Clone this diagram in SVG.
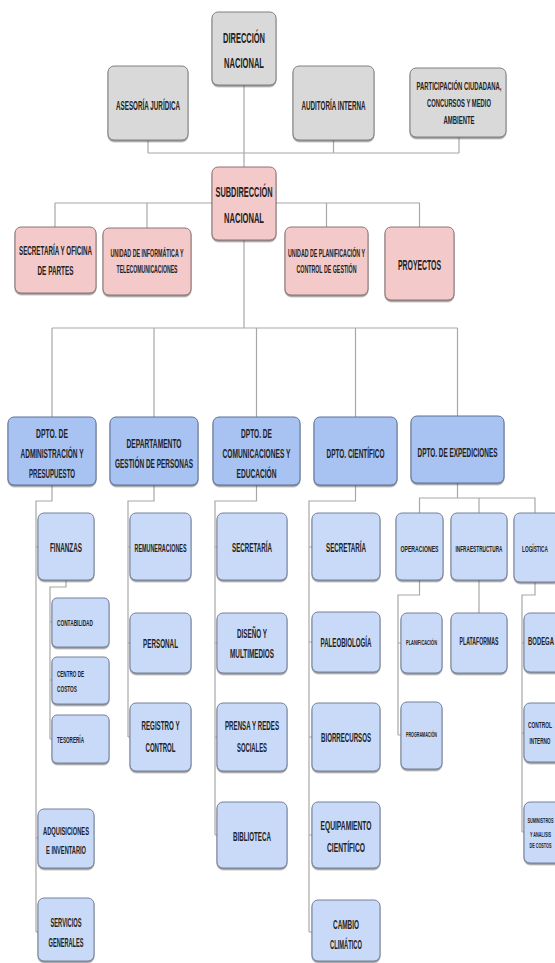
<svg xmlns="http://www.w3.org/2000/svg" width="555" height="963" viewBox="0 0 555 963">
<defs>
<filter id="sh" x="-10%" y="-10%" width="120%" height="130%"><feDropShadow dx="0" dy="1.5" stdDeviation="0.7" flood-color="#444" flood-opacity="0.6"/></filter>
<style>
rect{stroke-width:1;filter:url(#sh)}
.g{fill:#d9d9d9;stroke:#808080}
.p{fill:#f4c9c9;stroke:#8c7373}
.d{fill:#a8c3f2;stroke:#5d7196}
.s{fill:#c9daf8;stroke:#72809a}
text{font-family:"Liberation Sans",Arial,sans-serif;font-weight:bold;fill:#222;text-anchor:middle}
.l text{text-anchor:start}
#conn path{fill:none;stroke:#a8a8a8;stroke-width:1.2}
</style>
</defs>
<rect width="555" height="963" fill="#fff" style="filter:none;stroke:none"/>
<g id="conn">
<path d="M244,85V167M148,140V153M333.5,140V153M459,137V153M148,153H459"/>
<path d="M244,240V328M55,203H420M55,203V227M147,203V228M326.5,203V227M419.5,203V227"/>
<path d="M52,328H457.5M52,328V417M154,328V417M256.5,328V417M355.5,328V417M457.5,328V416"/>
<path d="M52,485V501H36V932M36,547H38M36,838H38M36,932H38"/>
<path d="M66,580V587H50V739M50,622H52M50,680H52M50,739H52"/>
<path d="M154,485V501H128V737M128,547H130M128,643H130M128,737H130"/>
<path d="M256.5,485V501H215V835M215,547H217M215,643H217M215,737H217M215,835H217"/>
<path d="M355.5,485V501H309V932M309,547H312M309,642H312M309,737H312M309,835H312M309,932H312"/>
<path d="M457.5,483V498M419.5,513V498H535V513M479,498V513"/>
<path d="M419.5,580V595H398V735M398,643H401M398,735H401"/>
<path d="M479,580V613"/>
<path d="M535,582V595H522V832M522,643H524M522,733H524M522,832H524"/>
</g>
<g id="n-dir"><rect class="g" x="212" y="12" width="64" height="73" rx="6"/><g transform="translate(244 0) scale(.5 1)"><text y="43" font-size="15" textLength="84" lengthAdjust="spacingAndGlyphs">DIRECCIÓN</text><text y="68" font-size="15" textLength="80" lengthAdjust="spacingAndGlyphs">NACIONAL</text></g></g>
<g id="n-ase"><rect class="g" x="108" y="66" width="80" height="74" rx="6"/><g transform="translate(148 0) scale(.5 1)"><text y="110" font-size="13" textLength="128" lengthAdjust="spacingAndGlyphs">ASESORÍA JURÍDICA</text></g></g>
<g id="n-aud"><rect class="g" x="293" y="66" width="81" height="74" rx="6"/><g transform="translate(333.5 0) scale(.5 1)"><text y="110" font-size="13" textLength="128" lengthAdjust="spacingAndGlyphs">AUDITORÍA INTERNA</text></g></g>
<g id="n-par"><rect class="g" x="410" y="68" width="96" height="69" rx="6"/><g transform="translate(459 0) scale(.5 1)"><text y="90" font-size="11" textLength="170" lengthAdjust="spacingAndGlyphs">PARTICIPACIÓN CIUDADANA,</text><text y="107" font-size="11" textLength="128" lengthAdjust="spacingAndGlyphs">CONCURSOS Y MEDIO</text><text y="124" font-size="11" textLength="62" lengthAdjust="spacingAndGlyphs">AMBIENTE</text></g></g>
<g id="n-sub"><rect class="p" x="212" y="167" width="64" height="73" rx="6"/><g transform="translate(244 0) scale(.5 1)"><text y="197" font-size="15" textLength="114" lengthAdjust="spacingAndGlyphs">SUBDIRECCIÓN</text><text y="223" font-size="15" textLength="80" lengthAdjust="spacingAndGlyphs">NACIONAL</text></g></g>
<g id="n-sec"><rect class="p" x="15" y="227" width="81" height="66" rx="6"/><g transform="translate(55.5 0) scale(.5 1)"><text y="255" font-size="12" textLength="146" lengthAdjust="spacingAndGlyphs">SECRETARÍA Y OFICINA</text><text y="275" font-size="12" textLength="72" lengthAdjust="spacingAndGlyphs">DE PARTES</text></g></g>
<g id="n-inf"><rect class="p" x="103" y="228" width="88" height="67" rx="6"/><g transform="translate(147 0) scale(.5 1)"><text y="257" font-size="10" textLength="146" lengthAdjust="spacingAndGlyphs">UNIDAD DE INFORMÁTICA Y</text><text y="273" font-size="10" textLength="122" lengthAdjust="spacingAndGlyphs">TELECOMUNICACIONES</text></g></g>
<g id="n-pla"><rect class="p" x="285" y="227" width="83" height="68" rx="6"/><g transform="translate(326.5 0) scale(.5 1)"><text y="257" font-size="10" textLength="154" lengthAdjust="spacingAndGlyphs">UNIDAD DE PLANIFICACIÓN Y</text><text y="273" font-size="10" textLength="120" lengthAdjust="spacingAndGlyphs">CONTROL DE GESTIÓN</text></g></g>
<g id="n-pro"><rect class="p" x="385" y="227" width="69" height="73" rx="6"/><g transform="translate(419.5 0) scale(.5 1)"><text y="270" font-size="15" textLength="86" lengthAdjust="spacingAndGlyphs">PROYECTOS</text></g></g>
<g id="n-adm"><rect class="d" x="8" y="417" width="88" height="68" rx="6"/><g transform="translate(52 0) scale(.5 1)"><text y="438" font-size="13" textLength="64" lengthAdjust="spacingAndGlyphs">DPTO. DE</text><text y="458" font-size="13" textLength="126" lengthAdjust="spacingAndGlyphs">ADMINISTRACIÓN Y</text><text y="478" font-size="13" textLength="92" lengthAdjust="spacingAndGlyphs">PRESUPUESTO</text></g></g>
<g id="n-ges"><rect class="d" x="110" y="417" width="88" height="68" rx="6"/><g transform="translate(154 0) scale(.5 1)"><text y="448" font-size="13" textLength="110" lengthAdjust="spacingAndGlyphs">DEPARTAMENTO</text><text y="468" font-size="13" textLength="156" lengthAdjust="spacingAndGlyphs">GESTIÓN DE PERSONAS</text></g></g>
<g id="n-com"><rect class="d" x="213" y="417" width="87" height="68" rx="6"/><g transform="translate(256.5 0) scale(.5 1)"><text y="438" font-size="13" textLength="62" lengthAdjust="spacingAndGlyphs">DPTO. DE</text><text y="458" font-size="13" textLength="136" lengthAdjust="spacingAndGlyphs">COMUNICACIONES Y</text><text y="478" font-size="13" textLength="80" lengthAdjust="spacingAndGlyphs">EDUCACIÓN</text></g></g>
<g id="n-cie"><rect class="d" x="314" y="417" width="83" height="68" rx="6"/><g transform="translate(355.5 0) scale(.5 1)"><text y="458" font-size="13" textLength="116" lengthAdjust="spacingAndGlyphs">DPTO. CIENTÍFICO</text></g></g>
<g id="n-exp"><rect class="d" x="411" y="416" width="93" height="67" rx="6"/><g transform="translate(457.5 0) scale(.5 1)"><text y="457" font-size="13" textLength="160" lengthAdjust="spacingAndGlyphs">DPTO. DE EXPEDICIONES</text></g></g>
<g id="n-fin"><rect class="s" x="38" y="513" width="56" height="67" rx="6"/><g transform="translate(66 0) scale(.5 1)"><text y="552" font-size="12" textLength="64" lengthAdjust="spacingAndGlyphs">FINANZAS</text></g></g>
<g id="n-con"><rect class="s" x="52" y="598" width="57" height="49" rx="5"/><g class="l" transform="translate(57 0) scale(.5 1)"><text y="626" font-size="9" textLength="72" lengthAdjust="spacingAndGlyphs">CONTABILIDAD</text></g></g>
<g id="n-cc"><rect class="s" x="52" y="657" width="57" height="47" rx="5"/><g class="l" transform="translate(57 0) scale(.5 1)"><text y="677" font-size="9" textLength="54" lengthAdjust="spacingAndGlyphs">CENTRO DE</text><text y="692" font-size="9" textLength="40" lengthAdjust="spacingAndGlyphs">COSTOS</text></g></g>
<g id="n-tes"><rect class="s" x="52" y="715" width="57" height="48" rx="5"/><g class="l" transform="translate(57 0) scale(.5 1)"><text y="743" font-size="9" textLength="54" lengthAdjust="spacingAndGlyphs">TESORERÍA</text></g></g>
<g id="n-adq"><rect class="s" x="38" y="809" width="56" height="59" rx="6"/><g transform="translate(66 0) scale(.5 1)"><text y="835" font-size="11" textLength="92" lengthAdjust="spacingAndGlyphs">ADQUISICIONES</text><text y="854" font-size="11" textLength="80" lengthAdjust="spacingAndGlyphs">E INVENTARIO</text></g></g>
<g id="n-ser"><rect class="s" x="38" y="898" width="56" height="63" rx="6"/><g transform="translate(66 0) scale(.5 1)"><text y="927" font-size="12" textLength="62" lengthAdjust="spacingAndGlyphs">SERVICIOS</text><text y="947" font-size="12" textLength="70" lengthAdjust="spacingAndGlyphs">GENERALES</text></g></g>
<g id="n-rem"><rect class="s" x="130" y="513" width="61" height="67" rx="6"/><g transform="translate(160.5 0) scale(.5 1)"><text y="552" font-size="10" textLength="104" lengthAdjust="spacingAndGlyphs">REMUNERACIONES</text></g></g>
<g id="n-per"><rect class="s" x="130" y="613" width="61" height="60" rx="6"/><g transform="translate(160.5 0) scale(.5 1)"><text y="648" font-size="12" textLength="70" lengthAdjust="spacingAndGlyphs">PERSONAL</text></g></g>
<g id="n-reg"><rect class="s" x="130" y="703" width="61" height="68" rx="6"/><g transform="translate(160.5 0) scale(.5 1)"><text y="730" font-size="12" textLength="76" lengthAdjust="spacingAndGlyphs">REGISTRO Y</text><text y="752" font-size="12" textLength="60" lengthAdjust="spacingAndGlyphs">CONTROL</text></g></g>
<g id="n-sc2"><rect class="s" x="217" y="513" width="70" height="67" rx="6"/><g transform="translate(252 0) scale(.5 1)"><text y="552" font-size="12" textLength="80" lengthAdjust="spacingAndGlyphs">SECRETARÍA</text></g></g>
<g id="n-dis"><rect class="s" x="217" y="613" width="70" height="60" rx="6"/><g transform="translate(252 0) scale(.5 1)"><text y="638" font-size="12" textLength="60" lengthAdjust="spacingAndGlyphs">DISEÑO Y</text><text y="658" font-size="12" textLength="88" lengthAdjust="spacingAndGlyphs">MULTIMEDIOS</text></g></g>
<g id="n-pre"><rect class="s" x="217" y="703" width="70" height="68" rx="6"/><g transform="translate(252 0) scale(.5 1)"><text y="730" font-size="12" textLength="108" lengthAdjust="spacingAndGlyphs">PRENSA Y REDES</text><text y="752" font-size="12" textLength="60" lengthAdjust="spacingAndGlyphs">SOCIALES</text></g></g>
<g id="n-bib"><rect class="s" x="217" y="802" width="70" height="66" rx="6"/><g transform="translate(252 0) scale(.5 1)"><text y="841" font-size="12" textLength="76" lengthAdjust="spacingAndGlyphs">BIBLIOTECA</text></g></g>
<g id="n-sc3"><rect class="s" x="312" y="513" width="68" height="67" rx="6"/><g transform="translate(346 0) scale(.5 1)"><text y="552" font-size="12" textLength="80" lengthAdjust="spacingAndGlyphs">SECRETARÍA</text></g></g>
<g id="n-pal"><rect class="s" x="312" y="612" width="68" height="60" rx="6"/><g transform="translate(346 0) scale(.5 1)"><text y="647" font-size="12" textLength="102" lengthAdjust="spacingAndGlyphs">PALEOBIOLOGÍA</text></g></g>
<g id="n-bio"><rect class="s" x="312" y="703" width="68" height="68" rx="6"/><g transform="translate(346 0) scale(.5 1)"><text y="742" font-size="12" textLength="100" lengthAdjust="spacingAndGlyphs">BIORRECURSOS</text></g></g>
<g id="n-equ"><rect class="s" x="312" y="802" width="68" height="66" rx="6"/><g transform="translate(346 0) scale(.5 1)"><text y="830" font-size="12" textLength="102" lengthAdjust="spacingAndGlyphs">EQUIPAMIENTO</text><text y="852" font-size="12" textLength="76" lengthAdjust="spacingAndGlyphs">CIENTÍFICO</text></g></g>
<g id="n-cam"><rect class="s" x="312" y="900" width="68" height="61" rx="6"/><g transform="translate(346 0) scale(.5 1)"><text y="929" font-size="12" textLength="52" lengthAdjust="spacingAndGlyphs">CAMBIO</text><text y="949" font-size="12" textLength="64" lengthAdjust="spacingAndGlyphs">CLIMÁTICO</text></g></g>
<g id="n-ope"><rect class="s" x="396" y="513" width="47" height="67" rx="6"/><g transform="translate(419.5 0) scale(.5 1)"><text y="552" font-size="9" textLength="76" lengthAdjust="spacingAndGlyphs">OPERACIONES</text></g></g>
<g id="n-inr"><rect class="s" x="451" y="513" width="56" height="67" rx="6"/><g transform="translate(479 0) scale(.5 1)"><text y="552" font-size="8.5" textLength="94" lengthAdjust="spacingAndGlyphs">INFRAESTRUCTURA</text></g></g>
<g id="n-log"><rect class="s" x="514" y="513" width="46" height="69" rx="6"/><g transform="translate(535 0) scale(.5 1)"><text y="552" font-size="9" textLength="52" lengthAdjust="spacingAndGlyphs">LOGÍSTICA</text></g></g>
<g id="n-pl2"><rect class="s" x="401" y="613" width="41" height="60" rx="6"/><g transform="translate(421.5 0) scale(.5 1)"><text y="645" font-size="7" textLength="62" lengthAdjust="spacingAndGlyphs">PLANIFICACIÓN</text></g></g>
<g id="n-prg"><rect class="s" x="401" y="702" width="41" height="67" rx="6"/><g transform="translate(421.5 0) scale(.5 1)"><text y="737" font-size="7" textLength="62" lengthAdjust="spacingAndGlyphs">PROGRAMACIÓN</text></g></g>
<g id="n-plt"><rect class="s" x="451" y="613" width="56" height="60" rx="6"/><g transform="translate(479 0) scale(.5 1)"><text y="645" font-size="10" textLength="78" lengthAdjust="spacingAndGlyphs">PLATAFORMAS</text></g></g>
<g id="n-bod"><rect class="s" x="524" y="613" width="38" height="59" rx="6"/><g transform="translate(541 0) scale(.5 1)"><text y="645" font-size="10" textLength="52" lengthAdjust="spacingAndGlyphs">BODEGA</text></g></g>
<g id="n-cti"><rect class="s" x="524" y="703" width="38" height="59" rx="6"/><g transform="translate(540 0) scale(.5 1)"><text y="728" font-size="9" textLength="48" lengthAdjust="spacingAndGlyphs">CONTROL</text><text y="744" font-size="9" textLength="42" lengthAdjust="spacingAndGlyphs">INTERNO</text></g></g>
<g id="n-sum"><rect class="s" x="524" y="802" width="38" height="61" rx="6"/><g transform="translate(540.5 0) scale(.5 1)"><text y="823" font-size="6.5" textLength="52" lengthAdjust="spacingAndGlyphs">SUMINISTROS</text><text y="837" font-size="6.5" textLength="42" lengthAdjust="spacingAndGlyphs">Y ANALISIS</text><text y="848" font-size="6.5" textLength="44" lengthAdjust="spacingAndGlyphs">DE COSTOS</text></g></g>
</svg>
